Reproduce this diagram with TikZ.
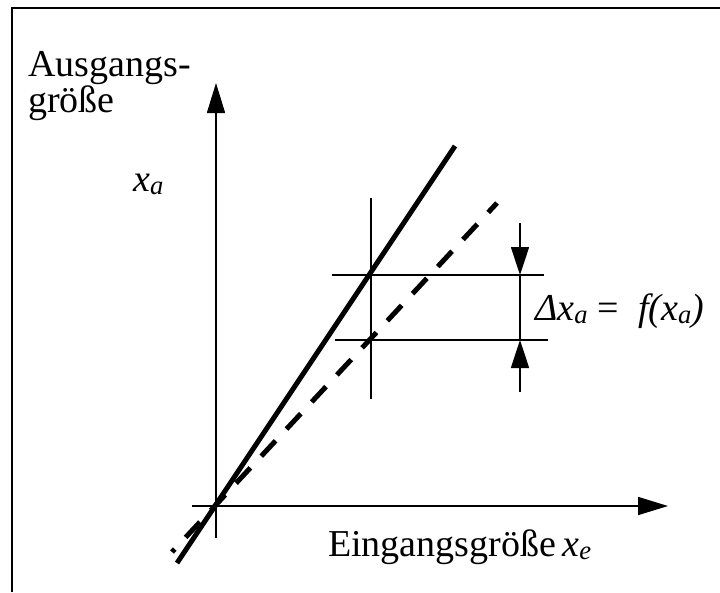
\documentclass[tikz,border=0pt]{standalone}
\usepackage{fontspec}
\setmainfont{Liberation Serif}
\usetikzlibrary{arrows.meta, calc}
\tikzset{
  frameline/.style={line width=2pt, color=black},
  axisline/.style={
    -{Triangle[length=30pt, width=18pt]}, line width=1.6pt, color=black,
  },
  characteristic/.style={line width=5pt, color=black},
  driftline/.style={line width=5pt, color=black, dash pattern=on 21pt off 16pt, dash phase=17pt},
  helpline/.style={line width=1.6pt, color=black},
  dimarrow/.style={
    -{Triangle[length=28pt, width=18pt]}, line width=1.6pt, color=black,
  },
  axistext/.style={font=\fontsize{38}{36}\selectfont, inner sep=0pt, text=black},
}
\begin{document}
\begin{tikzpicture}[x=1pt, y=-1pt]
  \useasboundingbox (0,0) rectangle (720,592);

  % === Frame (only left and top edge visible) ===
  \coordinate (frameBL) at (12,592);
  \coordinate (frameTL) at (12,8);
  \coordinate (frameTR) at (720,8);
  \draw[frameline] (frameBL) -- (frameTL) -- (frameTR);

  % === Axes ===
  \coordinate (origin) at (216,506);
  \coordinate (xstart) at (192,506);
  \coordinate (xend) at (668,506);
  \coordinate (ystart) at (216,538);
  \coordinate (yend) at (216,83);
  \draw[axisline] (xstart) -- (xend);
  \draw[axisline] (ystart) -- (yend);

  % === Characteristic lines: nominal (solid) and drifted (dashed) ===
  \coordinate (solidlow) at (177,563);
  \coordinate (solidhigh) at (455,146);
  \coordinate (dashlow) at (172,552);
  \coordinate (dashhigh) at (497,203);
  \draw[characteristic] (solidlow) -- (solidhigh);
  \draw[driftline] (dashlow) -- (dashhigh);

  % === Help lines at the working point ===
  \coordinate (marktop) at (371,198);
  \coordinate (markbot) at (371,399);
  \coordinate (uppleft) at (332,275);
  \coordinate (uppright) at (544,275);
  \coordinate (lowleft) at (335,340);
  \coordinate (lowright) at (548,340);
  \draw[helpline] (marktop) -- (markbot);
  \draw[helpline] (uppleft) -- (uppright);
  \draw[helpline] (lowleft) -- (lowright);

  % === Dimension arrows for the deviation ===
  \coordinate (dimtop) at (520,223);
  \coordinate (dimupper) at (520,275);
  \coordinate (dimlower) at (520,340);
  \coordinate (dimbot) at (520,392);
  \draw[dimarrow] (dimtop) -- (dimupper);
  \draw[dimarrow] (dimbot) -- (dimlower);
  \draw[helpline] (dimupper) -- (dimlower);

  % === Labels ===
  \node[axistext, anchor=base west, align=left] (ylabel) at (28,112) {Ausgangs-\\größe};
  \node[axistext, anchor=base west] (yvar) at (133,191) {\textit{x}\textsubscript{\textit{a}}};
  \node[axistext, anchor=base west] (xlabel) at (328,556) {Eingangsgröße\,\textit{x}\textsubscript{\textit{e}}};
  \node[axistext, anchor=base west] (dimlabel) at (535,320) {\textit{Δx}\textsubscript{\textit{a}} =\enspace\textit{f(x}\textsubscript{\textit{a}}\textit{)}};

\end{tikzpicture}
\end{document}
